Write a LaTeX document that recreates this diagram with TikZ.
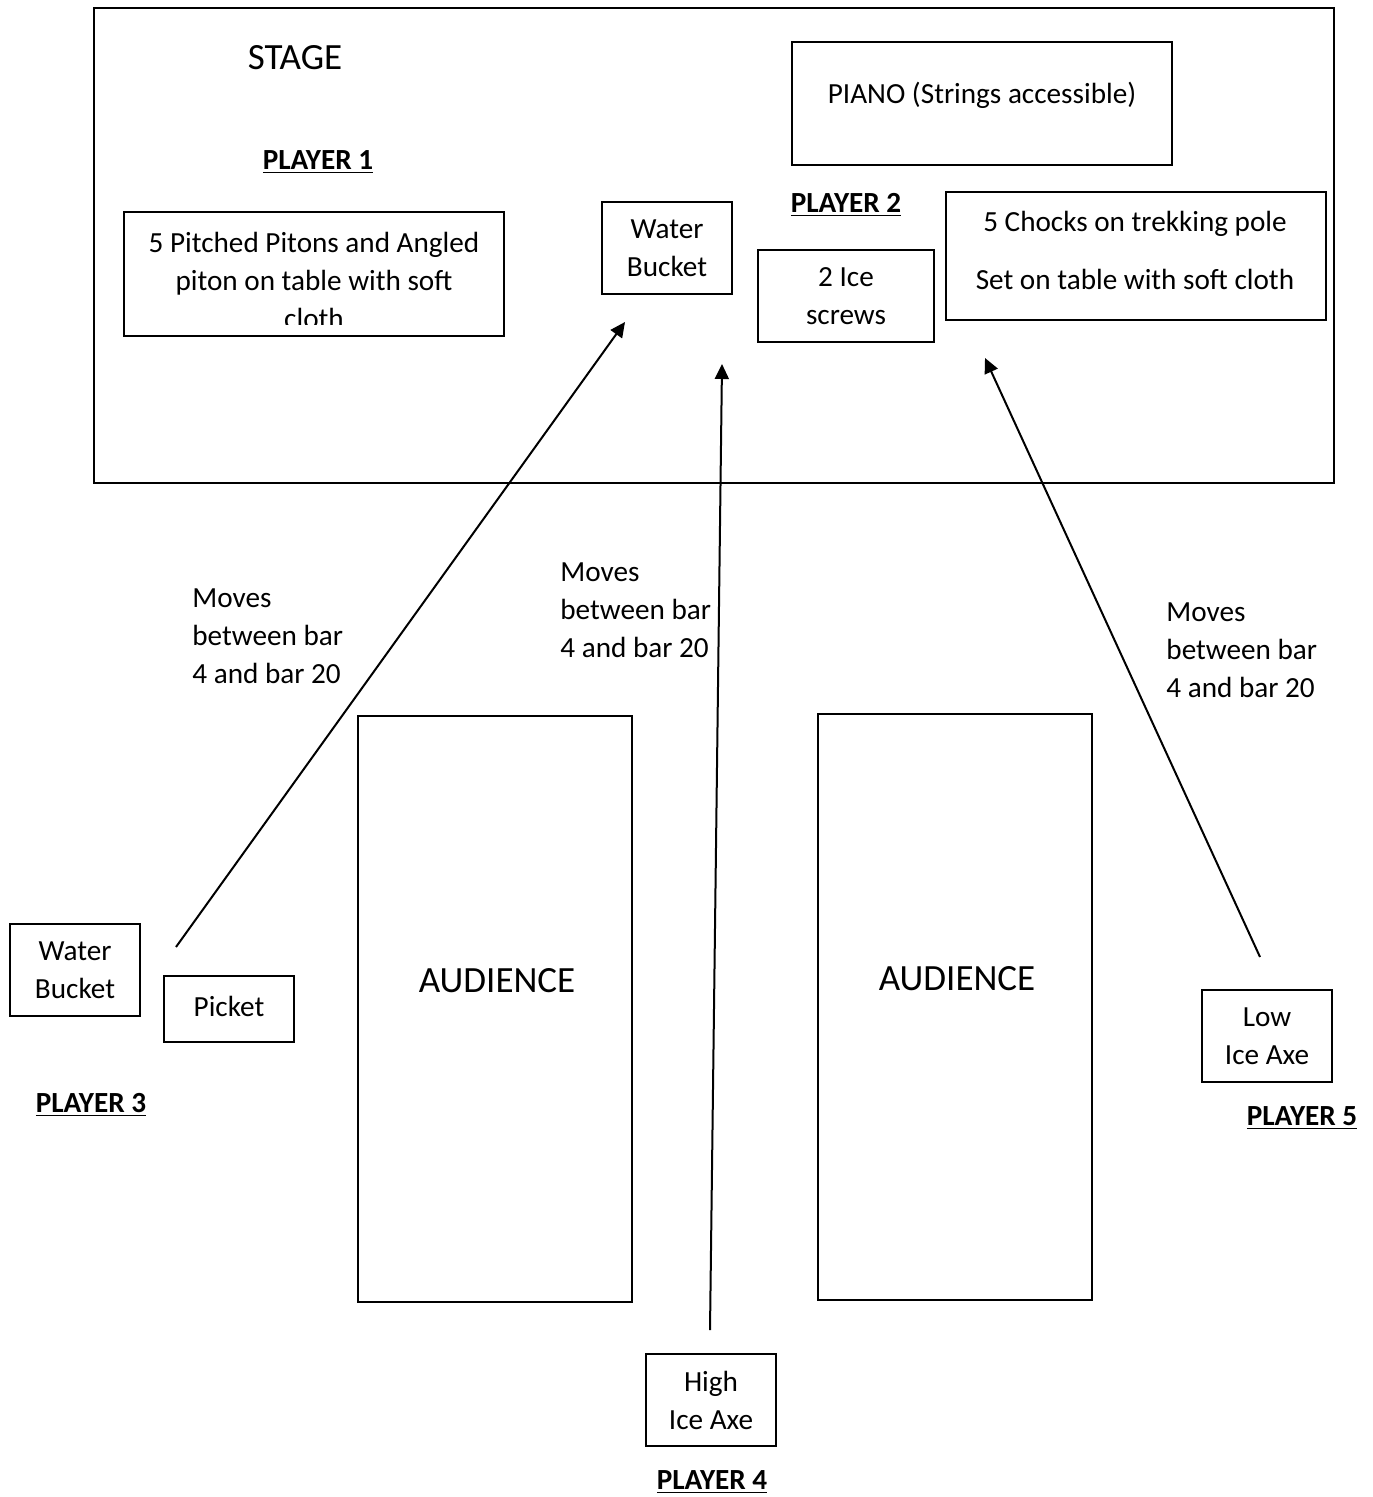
\documentclass[tikz,border=0pt]{standalone}
\usepackage{fontspec}
\setmainfont{Carlito}
\usetikzlibrary{positioning,arrows.meta}

\tikzset{
  item/.style={draw, line width=1pt, inner sep=0pt, align=center},
  word/.style={inner sep=0pt, align=center},
  note/.style={inner sep=0pt, align=left, anchor=west},
  who/.style={inner sep=0pt, font=\fontsize{14.6pt}{19pt}\selectfont\bfseries},
  big/.style={inner sep=0pt, font=\fontsize{18.5pt}{23pt}\selectfont},
  move/.style={line width=1pt, -{Triangle[length=7.5pt,width=7pt]}}
}

\begin{document}
\begin{tikzpicture}[x=0.5pt, y=-0.5pt, font=\fontsize{14.6pt}{19pt}\selectfont]
      \useasboundingbox (0,0) rectangle (1372,1497);
      % stage and what stands on it
      \node [item, minimum width=620pt, minimum height=237.5pt] (stage) at ( 714,  245.5) {};
      \node [big]                                      (stg) at ( 295,   58) {STAGE};
      \node [who]                                       (p1) at ( 318,  162) {\underline{PLAYER 1}};
      \node [item, minimum width=190pt, minimum height=62pt]  (pitons) at ( 314,  274) {};
      \begin{scope}
        \clip (124,212) rectangle (504,325);
        \node [word]                              (pitontxt) at ( 314,  280) {5 Pitched Pitons and Angled\\piton on table with soft\\cloth};
      \end{scope}
      \node [item, minimum width=65pt, minimum height=46pt]   (bucket) at ( 667,  248) {Water\\Bucket};
      \node [who]                                       (p2) at ( 846,  205) {\underline{PLAYER 2}};
      \node [item, minimum width=190pt, minimum height=61.5pt] (piano) at ( 982,  103.5) {};
      \node [word]                               (pianotxt) at ( 982,   95) {PIANO (Strings accessible)};
      \node [item, minimum width=88pt, minimum height=46pt]   (screws) at ( 846,  296) {2 Ice\\screws};
      \node [item, minimum width=190pt, minimum height=64pt]  (chocks) at (1136,  256) {};
      \node [word]                              (chockstxt) at (1135,  250) {5 Chocks on trekking pole\\[10pt]Set on table with soft cloth};
      % audience
      \node [item, minimum width=137pt, minimum height=293pt]   (aud1) at ( 495, 1009) {};
      \node [big]                                    (aud1txt) at ( 497,  981) {AUDIENCE};
      \node [item, minimum width=137pt, minimum height=293pt]   (aud2) at ( 955, 1007) {};
      \node [big]                                    (aud2txt) at ( 957,  979) {AUDIENCE};
      % players in the hall
      \node [item, minimum width=65pt, minimum height=46pt]  (bucket3) at (  75,  970) {Water\\Bucket};
      \node [item, minimum width=65pt, minimum height=33pt]   (picket) at ( 229, 1009) {};
      \node [word]                               (picktxt) at ( 229, 1006) {Picket};
      \node [who]                                       (p3) at (  91, 1105) {\underline{PLAYER 3}};
      \node [item, minimum width=65pt, minimum height=46pt]  (highaxe) at ( 711, 1400) {High\\Ice Axe};
      \node [who]                                       (p4) at ( 712, 1482) {\underline{PLAYER 4}};
      \node [item, minimum width=65pt, minimum height=46pt]   (lowaxe) at (1267, 1036) {Low\\Ice Axe};
      \node [who]                                       (p5) at (1302, 1118) {\underline{PLAYER 5}};
      % moves
      \node [note]                                     (mv3) at ( 192,  636) {Moves\\between bar\\4 and bar 20};
      \node [note]                                     (mv4) at ( 560,  610) {Moves\\between bar\\4 and bar 20};
      \node [note]                                     (mv5) at (1166,  650) {Moves\\between bar\\4 and bar 20};
      \coordinate (from3) at ( 176,  947);  \coordinate (to3) at ( 625,  322);
      \coordinate (from4) at ( 710, 1330);  \coordinate (to4) at ( 722,  364);
      \coordinate (from5) at (1260,  957);  \coordinate (to5) at ( 985,  358);
      \draw [move] (from3) -- (to3);
      \draw [move] (from4) -- (to4);
      \draw [move] (from5) -- (to5);
\end{tikzpicture}
\end{document}
